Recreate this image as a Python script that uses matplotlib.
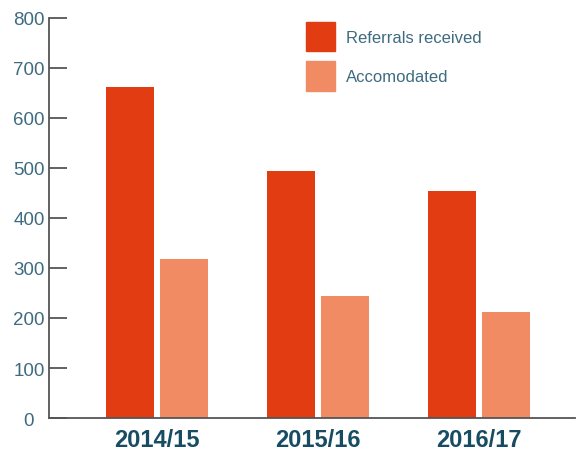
import matplotlib
matplotlib.use("Agg")
import matplotlib.pyplot as plt
from matplotlib.patches import Patch
import numpy as np

categories = ["2014/15", "2015/16", "2016/17"]
referrals = [662, 494, 454]
accommodated = [318, 244, 212]
series_names = ["Referrals received", "Accomodated"]
yticks = [0, 100, 200, 300, 400, 500, 600, 700, 800]

c_ref = "#e23c13"
c_acc = "#f08b63"
tick_col = "#3e6b80"
cat_col = "#174c63"
axis_col = "#555555"

plt.rcParams['font.family'] = ['Liberation Sans', 'DejaVu Sans']

fig = plt.figure(figsize=(5.76, 4.52), dpi=100)
ax = fig.add_axes([0.085, 0.073, 0.913, 0.885])

x = np.arange(len(categories))
w = 0.298
off = 0.168
ax.bar(x - off, referrals, width=w, color=c_ref, label=series_names[0])
ax.bar(x + off, accommodated, width=w, color=c_acc, label=series_names[1])

ax.set_xlim(-0.671, 2.596)
ax.set_ylim(0, 800)
ax.set_yticks(yticks)
ax.set_yticklabels([str(t) for t in yticks], fontsize=13.5, color=tick_col, ha='center')
ax.tick_params(axis='y', direction='in', length=13, width=1.3, color=axis_col, pad=14.4)
ax.set_xticks(x)
ax.set_xticklabels(categories, fontsize=17, fontweight='bold', color=cat_col)
ax.tick_params(axis='x', length=0, pad=7)

for s in ['top', 'right']:
    ax.spines[s].set_visible(False)
for s in ['left', 'bottom']:
    ax.spines[s].set_color(axis_col)
    ax.spines[s].set_linewidth(1.3)

handles = [Patch(color=c_ref), Patch(color=c_acc)]
leg = ax.legend(handles, series_names, loc='upper left', bbox_to_anchor=(0.46, 1.028),
                frameon=False, fontsize=12, handlelength=1.74, handleheight=2.35,
                handletextpad=0.66, labelspacing=0.6)
for t in leg.get_texts():
    t.set_color(tick_col)

fig.savefig("out.png", dpi=100)
